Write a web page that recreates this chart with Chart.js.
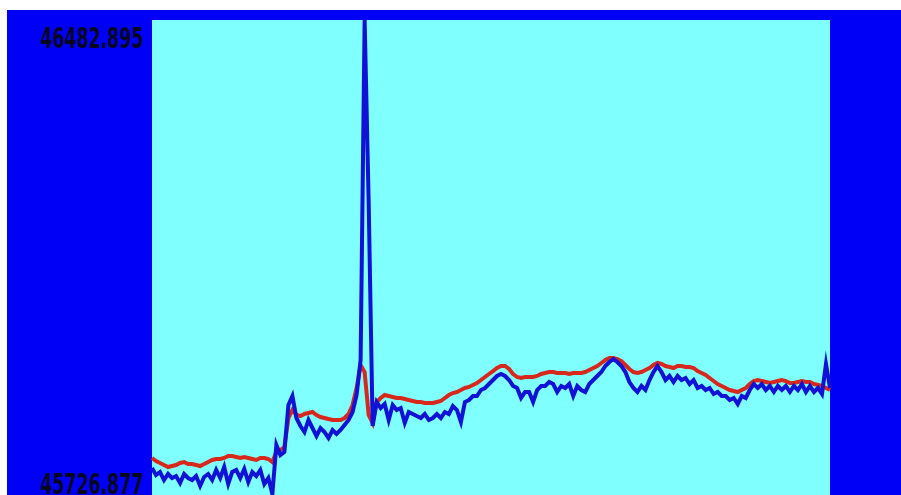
<!DOCTYPE html>
<html>
<head>
<meta charset="utf-8">
<script src="https://cdn.jsdelivr.net/npm/chart.js@4/dist/chart.umd.min.js"></script>
<style>
  html, body { margin: 0; padding: 0; background: #ffffff; overflow: hidden; }
  #frame { position: absolute; left: 7px; top: 10px; width: 894px; height: 485px; background: #0000f6; }
  canvas { display: block; }
</style>
</head>
<body>
<div id="frame"><canvas id="chart" width="894" height="485"></canvas></div>
<script>
// Value range of the trace (extremes shown as the two axis labels)
const yMin = 45726.877;
const yMax = 46482.895;
const yTickLabels = ['46482.895', '45726.877'];
const yTickValues = [yMax, yMin];

// Smoothed reference trace
const redSeries = [
  45785.8, 45781.0, 45777.8, 45774.6, 45771.4, 45773.0, 45774.6, 45777.8, 45779.4, 45776.2,
  45776.2, 45774.6, 45773.0, 45776.2, 45779.4, 45782.6, 45784.2, 45784.2, 45785.8, 45788.9,
  45788.9, 45787.4, 45785.8, 45787.4, 45785.8, 45784.2, 45782.6, 45785.8, 45785.8, 45784.2,
  45779.4, 45795.3, 45798.5, 45803.3, 45849.4, 45862.2, 45854.2, 45852.6, 45855.8, 45857.4,
  45859.0, 45854.2, 45851.0, 45849.4, 45847.8, 45846.2, 45846.2, 45846.2, 45849.4, 45855.8,
  45870.1, 45897.2, 45933.8, 45922.6, 45854.2, 45841.5, 45874.9, 45881.3, 45886.0, 45884.4,
  45882.9, 45881.3, 45881.3, 45879.7, 45878.1, 45876.5, 45874.9, 45874.9, 45873.3, 45873.3,
  45873.3, 45874.9, 45876.5, 45881.3, 45886.0, 45889.2, 45890.8, 45894.0, 45897.2, 45898.8,
  45902.0, 45905.1, 45909.9, 45914.7, 45919.5, 45924.2, 45929.0, 45932.2, 45932.2, 45927.4,
  45919.5, 45914.7, 45913.1, 45914.7, 45914.7, 45914.7, 45916.3, 45919.5, 45921.1, 45922.6,
  45922.6, 45921.1, 45921.1, 45921.1, 45919.5, 45921.1, 45921.1, 45921.1, 45922.6, 45925.8,
  45929.0, 45932.2, 45937.0, 45941.7, 45944.9, 45944.9, 45943.3, 45940.1, 45933.8, 45927.4,
  45922.6, 45921.1, 45922.6, 45925.8, 45929.0, 45933.8, 45937.0, 45935.4, 45932.2, 45930.6,
  45929.0, 45932.2, 45932.2, 45930.6, 45930.6, 45929.0, 45924.2, 45921.1, 45917.9, 45913.1,
  45908.3, 45903.5, 45900.4, 45897.2, 45894.0, 45892.4, 45890.8, 45894.0, 45897.2, 45903.5,
  45908.3, 45909.9, 45908.3, 45906.7, 45905.1, 45906.7, 45908.3, 45909.9, 45908.3, 45905.1,
  45905.1, 45906.7, 45908.3, 45906.7, 45906.7, 45903.5, 45902.0, 45900.4, 45897.2, 45894.0
];

// Raw trace
const blueSeries = [
  45769.8, 45758.7, 45763.5, 45750.7, 45760.3, 45753.9, 45757.1, 45746.0, 45760.3, 45753.9,
  45750.7, 45757.1, 45741.2, 45755.5, 45760.3, 45750.7, 45766.7, 45753.9, 45771.4, 45744.4,
  45763.5, 45766.7, 45753.9, 45768.3, 45747.6, 45763.5, 45757.1, 45766.7, 45744.4, 45753.9,
  45728.5, 45806.5, 45790.5, 45795.3, 45870.1, 45884.4, 45849.4, 45836.7, 45827.1, 45846.2,
  45833.5, 45820.8, 45833.5, 45827.1, 45817.6, 45830.3, 45824.0, 45830.3, 45838.3, 45846.2,
  45859.0, 45886.0, 45941.7, 46482.895, 46196.4, 45836.7, 45874.9, 45865.3, 45871.7, 45846.2,
  45870.1, 45862.2, 45865.3, 45841.5, 45859.0, 45855.8, 45852.6, 45849.4, 45855.8, 45846.2,
  45849.4, 45855.8, 45849.4, 45859.0, 45855.8, 45868.5, 45862.2, 45843.1, 45874.9, 45878.1,
  45884.4, 45884.4, 45894.0, 45897.2, 45903.5, 45909.9, 45916.3, 45919.5, 45916.3, 45909.9,
  45900.4, 45897.2, 45881.3, 45890.8, 45890.8, 45874.9, 45894.0, 45900.4, 45900.4, 45906.7,
  45903.5, 45890.8, 45900.4, 45897.2, 45903.5, 45884.4, 45900.4, 45894.0, 45890.8, 45903.5,
  45909.9, 45916.3, 45922.6, 45932.2, 45938.6, 45943.3, 45938.6, 45932.2, 45922.6, 45906.7,
  45897.2, 45890.8, 45900.4, 45894.0, 45909.9, 45922.6, 45932.2, 45922.6, 45909.9, 45916.3,
  45906.7, 45916.3, 45909.9, 45913.1, 45903.5, 45909.9, 45897.2, 45900.4, 45894.0, 45897.2,
  45887.6, 45890.8, 45884.4, 45884.4, 45878.1, 45881.3, 45871.7, 45884.4, 45881.3, 45894.0,
  45903.5, 45897.2, 45903.5, 45894.0, 45900.4, 45890.8, 45900.4, 45894.0, 45900.4, 45890.8,
  45900.4, 45894.0, 45903.5, 45890.8, 45900.4, 45890.8, 45897.2, 45887.6, 45935.4, 45897.2
];

// Sample numbers along the horizontal axis
const sampleIndex = blueSeries.map((_, i) => i);

// Cyan plotting field behind the traces
const plotField = {
  id: 'plotField',
  beforeDatasetsDraw(chart) {
    const { ctx, chartArea: a } = chart;
    ctx.save();
    ctx.fillStyle = '#80ffff';
    ctx.fillRect(a.left, a.top, a.right - a.left, a.bottom - a.top);
    ctx.restore();
  }
};

// Max / min labels at the left of the field, in a narrow bold face
const extremaLabels = {
  id: 'extremaLabels',
  afterDraw(chart) {
    const { ctx, chartArea: a } = chart;
    const y = chart.scales.y;
    ctx.save();
    ctx.font = 'bold 28px "Liberation Sans Narrow", "DejaVu Sans Condensed", "Arial Narrow", sans-serif';
    ctx.fillStyle = '#06061c';
    ctx.textAlign = 'right';
    ctx.textBaseline = 'alphabetic';
    yTickLabels.forEach((txt, i) => {
      const py = y.getPixelForValue(yTickValues[i]);
      const base = i === 0 ? py + 28 : py - 1;
      const w = ctx.measureText(txt).width;
      const sx = 103 / w;
      ctx.save();
      ctx.translate(a.left - 9, base);
      ctx.scale(sx, 1);
      ctx.fillText(txt, 0, 0);
      ctx.restore();
    });
    ctx.restore();
  }
};

new Chart(document.getElementById('chart'), {
  type: 'line',
  data: {
    labels: sampleIndex,
    datasets: [
      {
        data: blueSeries,
        borderColor: '#1212d6',
        borderWidth: 4,
        pointRadius: 0,
        tension: 0,
        fill: false
      },
      {
        data: redSeries,
        borderColor: '#d8281c',
        borderWidth: 4,
        pointRadius: 0,
        tension: 0,
        fill: false
      }
    ]
  },
  options: {
    responsive: false,
    animation: false,
    events: [],
    layout: { padding: { left: 145, right: 71, top: 10, bottom: 0 } },
    plugins: { legend: { display: false }, tooltip: { enabled: false } },
    scales: {
      x: { type: 'category', display: false, offset: false },
      y: { display: false, min: yMin, max: yMax }
    }
  },
  plugins: [plotField, extremaLabels]
});
</script>
</body>
</html>
